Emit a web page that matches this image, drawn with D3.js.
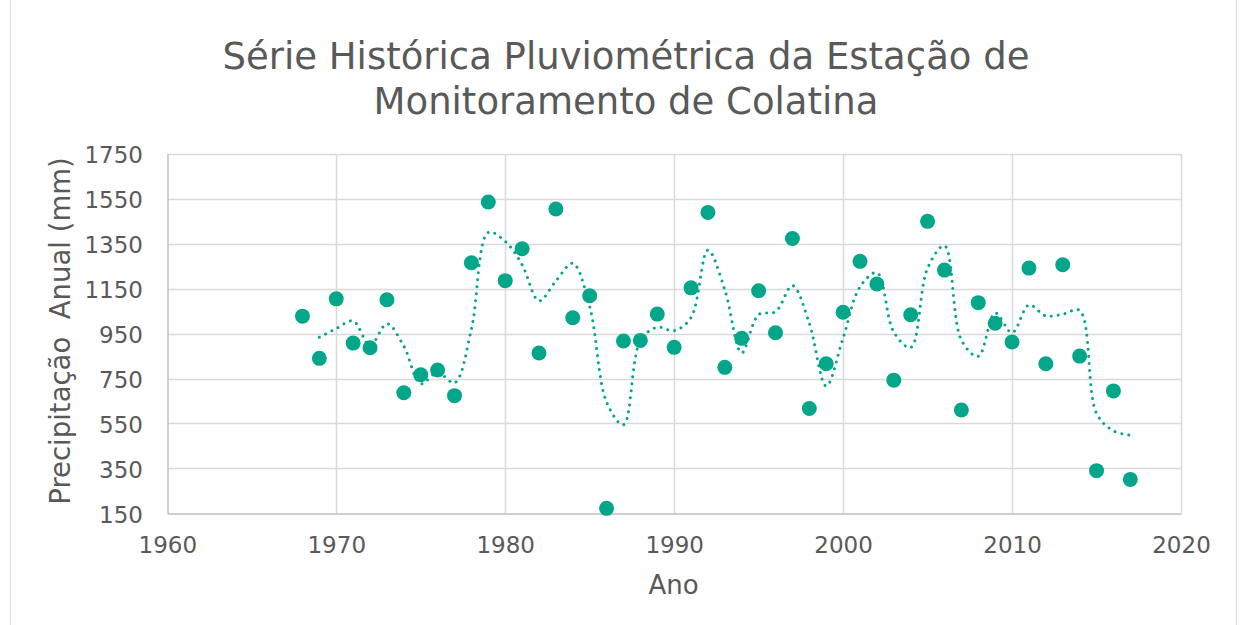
<!DOCTYPE html>
<html><head><meta charset="utf-8">
<script src="https://cdn.jsdelivr.net/npm/d3@7"></script>
<style>html,body{margin:0;padding:0;background:#fff;}svg{display:block;}</style>
</head><body>
<svg id="chart" width="1245" height="625"></svg>
<script>
const years = [1968,1969,1970,1971,1972,1973,1974,1975,1976,1977,1978,1979,1980,1981,1982,1983,1984,1985,1986,1987,1988,1989,1990,1991,1992,1993,1994,1995,1996,1997,1998,1999,2000,2001,2002,2003,2004,2005,2006,2007,2008,2009,2010,2011,2012,2013,2014,2015,2016,2017];
const precip = [1028,840,1105,908,887,1101,687,767,788,674,1266,1536,1186,1328,864,1505,1021,1119,172,917,920,1037,889,1154,1490,800,929,1141,954,1374,617,816,1045,1272,1171,743,1034,1450,1233,610,1088,996,913,1242,816,1257,850,340,695,301];
const xTicks = [1960,1970,1980,1990,2000,2010,2020];
const yTicks = [150,350,550,750,950,1150,1350,1550,1750];
const titleLines = ["Série Histórica Pluviométrica da Estação de","Monitoramento de Colatina"];
const xTitle = "Ano";
const yTitle = "Precipitação  Anual (mm)";
const maPeriod = 2;

const svg = d3.select("#chart");
const font = "'DejaVu Sans', Verdana, sans-serif";
const textColor = "#595959";
const teal = "#03A688";

svg.append("rect").attr("x",10.5).attr("y",-2).attr("width",1226).attr("height",640)
  .attr("fill","#fff").attr("stroke","#D9D9D9").attr("stroke-width",1);

const x = d3.scaleLinear().domain([1960,2020]).range([167.3,1181]);
const y = d3.scaleLinear().domain([150,1750]).range([513.3,154]);

// gridlines
svg.append("g").selectAll("line.h").data(yTicks.slice(1)).join("line")
  .attr("x1",x(1960)).attr("x2",x(2020)).attr("y1",d=>Math.round(y(d))+0.5).attr("y2",d=>Math.round(y(d))+0.5)
  .attr("stroke","#D9D9D9").attr("stroke-width",1.5);
svg.append("g").selectAll("line.v").data(xTicks.slice(1)).join("line")
  .attr("y1",y(150)).attr("y2",y(1750)).attr("x1",d=>Math.round(x(d))+0.5).attr("x2",d=>Math.round(x(d))+0.5)
  .attr("stroke","#D9D9D9").attr("stroke-width",1.5);

// axes
const xAxis = d3.axisBottom(x).tickValues(xTicks).tickFormat(d3.format("d")).tickSize(0).tickPadding(23);
const gx = svg.append("g").attr("transform",`translate(0,${Math.round(y(150))+0.5})`).call(xAxis);
gx.select(".domain").attr("stroke","#BFBFBF").attr("stroke-width",1.5);
gx.selectAll("text").attr("fill",textColor).style("font-family",font).style("font-size","23px");

const yAxis = d3.axisLeft(y).tickValues(yTicks).tickFormat(d3.format("d")).tickSize(0).tickPadding(24.5);
const gy = svg.append("g").attr("transform",`translate(${Math.round(x(1960))+0.5},0)`).call(yAxis);
gy.select(".domain").attr("stroke","#BFBFBF").attr("stroke-width",1.5);
gy.selectAll("text").attr("fill",textColor).attr("dy","0.38em").style("font-family",font).style("font-size","23px");

// points
svg.append("g").selectAll("circle").data(years.map((yr,i)=>({yr,v:precip[i]}))).join("circle")
  .attr("cx",d=>x(d.yr)).attr("cy",d=>y(d.v)).attr("r",7.5).attr("fill",teal);

// moving average trendline (period 2), smoothed
const ma = [];
for (let i = maPeriod-1; i < years.length; i++) {
  let s = 0; for (let k = 0; k < maPeriod; k++) s += precip[i-k];
  ma.push({yr: years[i], v: s/maPeriod});
}
svg.append("path").datum(ma)
  .attr("d", d3.line().x(d=>x(d.yr)).y(d=>y(d.v)).curve(d3.curveCatmullRom.alpha(0.5)))
  .attr("fill","none").attr("stroke",teal).attr("stroke-width",3)
  .attr("stroke-linecap","round").attr("stroke-dasharray","0.01 7");

// titles
const t = svg.append("text").attr("text-anchor","middle").attr("fill",textColor)
  .style("font-family",font).style("font-size","37px");
titleLines.forEach((l,i)=>t.append("tspan").attr("x",626).attr("y",69+i*44.5).text(l));

svg.append("text").attr("x",673.5).attr("y",594).attr("text-anchor","middle").attr("fill",textColor)
  .style("font-family",font).style("font-size","26px").text(xTitle);
svg.append("text").attr("transform","translate(70,331) rotate(-90)").attr("text-anchor","middle").attr("fill",textColor)
  .style("font-family",font).style("font-size","27.5px").style("white-space","pre").text(yTitle);
</script>
</body></html>
